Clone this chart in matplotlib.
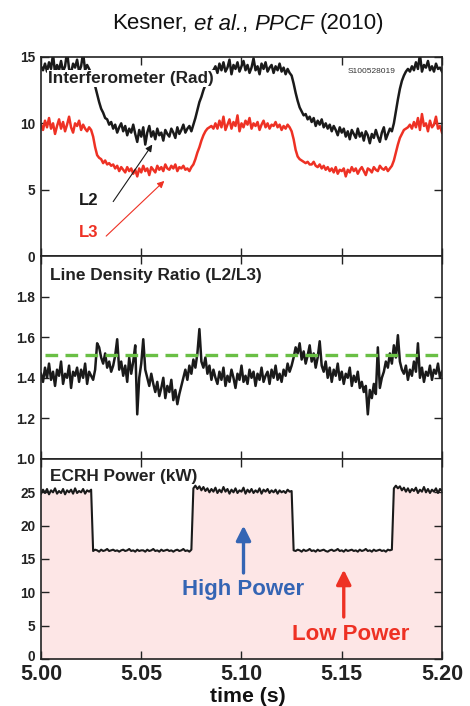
import numpy as np
import matplotlib
matplotlib.use("Agg")
import matplotlib.pyplot as plt
from matplotlib.transforms import ScaledTranslation

plt.rcParams['font.family'] = ['Liberation Sans', 'DejaVu Sans']

# ---------------- data ----------------
time = np.round(np.linspace(5.000, 5.200, 201), 3)

l2 = [14.3, 14.0, 14.5, 13.9, 14.6, 14.1, 15.2, 13.8, 14.4, 14.0, 14.7, 13.9, 14.3, 15.4, 14.1, 13.8,
      14.5, 14.2, 14.8, 13.9, 14.3, 15.3, 14.0, 14.4, 14.1, 13.8,
      13.4, 12.8, 12.2, 11.6, 11.1, 10.8, 10.4, 10.3, 9.9, 10.1,
      9.6, 9.9, 9.3, 9.7, 10.0, 9.4, 9.8, 9.1, 9.6, 9.3,
      9.9, 9.2, 8.6, 9.5, 9.0, 9.7, 8.4, 9.3, 9.8, 9.0,
      9.4, 8.8, 9.6, 9.1, 9.3, 8.7, 9.5, 9.2, 9.0, 9.6,
      9.3, 8.9, 9.7, 9.2, 9.5, 9.9, 9.3, 9.6, 9.8, 9.4,
      9.9, 10.4, 11.0, 11.6, 12.0, 12.5, 12.9, 13.3, 13.7, 13.9, 14.0,
      14.3, 13.8, 14.5, 14.0, 14.6, 13.9, 14.2, 14.8, 13.7, 14.4,
      14.1, 14.6, 13.9, 14.3, 14.7, 14.0, 14.4, 13.8, 14.2, 14.9,
      14.0, 14.3, 13.7, 14.5, 14.1, 14.6, 13.9, 14.2, 14.4, 13.8,
      14.3, 14.0, 14.5, 13.9, 14.2, 13.7, 14.1, 13.8, 13.6,
      13.0, 12.3, 11.7, 11.2, 10.9, 10.6, 10.7, 10.3, 10.5,
      10.1, 10.4, 9.8, 10.2, 9.9, 10.3, 9.7, 10.0, 9.6, 9.9,
      9.4, 9.8, 9.5, 9.1, 9.7, 9.3, 9.6, 9.0, 9.4, 8.8,
      9.5, 9.2, 8.9, 9.6, 9.0, 9.3, 8.7, 9.4, 9.1, 8.5,
      9.2, 8.9, 9.5, 9.0, 8.6, 9.3, 9.7, 8.8, 9.2, 9.6,
      9.4,
      10.0, 10.9, 11.8, 12.6, 13.2, 13.6, 13.9, 14.1, 13.9,
      14.3, 14.0, 14.6, 14.1, 15.2, 13.9, 14.4, 14.2, 14.7, 14.0, 14.3, 13.9, 14.5, 14.1, 14.2, 13.9]

l3 = [9.9, 9.5, 10.2, 9.7, 10.4, 9.6, 10.0, 9.2, 9.8, 10.3, 9.6, 10.1, 9.4, 9.9, 10.5, 9.7,
      9.3, 10.0, 9.8, 10.2, 9.5, 9.9, 9.6, 9.4, 9.7, 9.5,
      9.0, 8.2, 7.6, 7.4, 7.3, 7.0, 7.2, 6.9, 7.0, 6.8,
      6.9, 6.6, 6.8, 6.4, 6.7, 6.5, 6.3, 6.7, 6.4, 6.6,
      6.2, 6.5, 6.0, 6.6, 6.3, 6.8, 6.4, 6.6, 6.1, 6.7,
      6.5, 6.3, 6.8, 6.5, 6.7, 6.4, 6.9, 6.6, 6.5, 6.8,
      6.6, 6.9, 6.4, 6.7, 6.6, 6.8, 6.5, 6.6, 6.4, 6.7,
      6.9, 7.3, 7.8, 8.2, 8.7, 9.1, 9.4, 9.6, 9.7, 9.8, 9.6,
      10.0, 9.6, 10.2, 9.7, 10.5, 9.5, 9.9, 10.3, 9.6, 10.1,
      9.8, 10.6, 9.4, 10.0, 9.7, 10.2, 9.9, 10.4, 9.6, 10.0,
      9.8, 10.1, 9.5, 9.9, 10.2, 9.7, 10.0, 9.6, 9.9, 9.8,
      10.1, 9.7, 9.9, 9.5, 9.8, 9.6, 9.9, 9.7, 9.4,
      8.8, 8.0, 7.5, 7.3, 7.2, 7.1, 7.0, 7.1, 6.9,
      6.9, 7.1, 6.8, 6.7, 6.9, 6.6, 6.8, 6.5, 6.7, 6.4,
      6.6, 6.3, 6.7, 6.2, 6.5, 6.4, 6.6, 6.0, 6.5, 6.3,
      6.7, 6.4, 6.6, 6.2, 6.5, 6.7, 6.4, 6.1, 6.6, 6.5,
      6.3, 6.7, 6.5, 6.4, 6.8, 6.6, 6.5, 6.7, 6.4, 6.6,
      6.8,
      7.2, 7.8, 8.4, 8.9, 9.2, 9.5, 9.6, 9.7, 9.9,
      9.6, 10.1, 9.7, 10.4, 9.5, 10.7, 9.8, 10.0, 9.4, 10.2, 9.7, 9.9, 10.5, 9.6, 9.8, 9.3]

ratio = [1.42, 1.38, 1.45, 1.40, 1.47, 1.39, 1.43, 1.36, 1.44, 1.41, 1.48, 1.37, 1.42, 1.40,
         1.46, 1.35, 1.43, 1.41, 1.45, 1.38, 1.44, 1.40, 1.47, 1.37, 1.43, 1.41, 1.39, 1.44,
         1.57, 1.55, 1.50, 1.47, 1.52, 1.45, 1.48, 1.43,
         1.46, 1.51, 1.59, 1.44, 1.48, 1.41, 1.46, 1.38, 1.50, 1.42, 1.48, 1.56,
         1.22, 1.40, 1.47, 1.59, 1.44, 1.40, 1.36, 1.42,
         1.37, 1.33, 1.38, 1.31, 1.35, 1.40, 1.30, 1.36, 1.33, 1.39, 1.29, 1.34, 1.27, 1.32, 1.36,
         1.40, 1.44, 1.39, 1.46, 1.42, 1.49, 1.45, 1.52, 1.64,
         1.48, 1.45, 1.50, 1.42, 1.46, 1.39, 1.44, 1.40, 1.37, 1.43,
         1.39, 1.45, 1.36, 1.41, 1.38, 1.44, 1.40, 1.35, 1.42, 1.39,
         1.46, 1.38, 1.41, 1.37, 1.44, 1.40, 1.43, 1.36, 1.42, 1.39,
         1.45, 1.38, 1.41, 1.43, 1.37, 1.44, 1.40, 1.46, 1.39, 1.42,
         1.38, 1.44, 1.41, 1.47, 1.43,
         1.46, 1.50, 1.55, 1.52, 1.57, 1.49, 1.53, 1.47, 1.51, 1.56, 1.48, 1.52, 1.45, 1.50, 1.58, 1.46,
         1.43, 1.48, 1.40, 1.45, 1.38, 1.44, 1.41, 1.47, 1.39, 1.43, 1.37, 1.42, 1.40, 1.45, 1.36,
         1.41, 1.38, 1.43, 1.35,
         1.38, 1.33, 1.36, 1.22, 1.34, 1.30, 1.37, 1.32, 1.55, 1.35, 1.40,
         1.43, 1.48, 1.45, 1.52, 1.47, 1.56, 1.50, 1.61, 1.48, 1.44,
         1.42, 1.46, 1.39, 1.44, 1.41, 1.48, 1.43, 1.57, 1.40, 1.45, 1.38, 1.43, 1.41, 1.46, 1.39,
         1.44, 1.42, 1.47, 1.40, 1.43]

power = [24.8, 25.4, 24.9, 25.5, 24.7, 25.3, 25.0, 25.6, 24.8, 25.2, 24.9, 25.5, 24.7, 25.3,
         25.0, 25.4, 24.8, 25.6, 24.9, 25.2, 25.0, 25.5, 24.8, 25.3, 25.1, 25.4,
         16.2, 16.4, 16.3, 16.1, 16.4, 16.2, 16.3, 16.5, 16.2, 16.3,
         16.4, 16.2, 16.3, 16.1, 16.3, 16.4, 16.2, 16.3, 16.5, 16.2,
         16.3, 16.1, 16.4, 16.2, 16.3, 16.3, 16.1, 16.4, 16.2, 16.3,
         16.5, 16.2, 16.3, 16.1, 16.4, 16.2, 16.3, 16.4, 16.2, 16.3,
         16.1, 16.3, 16.4, 16.2, 16.3, 16.5, 16.2, 16.3, 16.1, 16.4,
         25.6, 26.0, 25.5, 25.9, 25.3, 25.8, 25.2, 25.6, 25.0, 25.5,
         25.1, 25.7, 24.9, 25.4, 25.0, 25.8, 25.1, 25.5, 24.8, 25.4,
         25.0, 25.6, 24.9, 25.3, 25.1, 25.7, 24.8, 25.4, 25.0, 25.5,
         24.9, 25.3, 25.0, 25.6, 24.8, 25.4, 25.1, 25.5, 24.9, 25.3,
         25.0, 25.4, 24.8, 25.3, 25.0, 25.2, 24.9, 25.4, 25.1, 25.2,
         16.3, 16.2, 16.4, 16.3, 16.1, 16.4, 16.2, 16.3, 16.5, 16.2,
         16.3, 16.1, 16.4, 16.2, 16.3, 16.4, 16.2, 16.1, 16.3, 16.4,
         16.2, 16.3, 16.5, 16.2, 16.3, 16.1, 16.4, 16.2, 16.3, 16.4,
         16.2, 16.3, 16.1, 16.4, 16.2, 16.3, 16.5, 16.2, 16.3, 16.1,
         16.4, 16.2, 16.3, 16.4, 16.2, 16.3, 16.1, 16.4, 16.3, 16.4,
         25.6, 26.0, 25.6, 25.9, 25.3, 25.7, 25.1, 25.6, 25.0, 25.5,
         25.2, 25.7, 24.9, 25.4, 25.1, 25.8, 25.0, 25.5, 24.9, 25.4,
         25.1, 25.6, 24.9, 25.5, 25.2]

ratio_ref = 1.51
x_ticks = [5.00, 5.05, 5.10, 5.15, 5.20]
x_ticklabels = ['5.00', '5.05', '5.10', '5.15', '5.20']
top_yticks = [0, 5, 10, 15]
mid_yticks = [1.0, 1.2, 1.4, 1.6, 1.8]
mid_yticklabels = ['1.0', '1.2', '1.4', '1.6', '1.8']
bot_yticks = [0, 5, 10, 15, 20, 25]
title_parts = [('Kesner,', 'normal'), ('et al.', 'italic'), (',', 'normal'),
               ('PPCF', 'italic'), ('(2010)', 'normal')]
title_gaps = [True, False, True, True, False]   # space after each part

RED = '#ee3124'
BLUE = '#3565b4'
GREEN = '#6abf45'
PINK = '#fde6e6'
INK = '#1a1a1a'

# ---------------- figure ----------------
fig = plt.figure(figsize=(4.70, 7.06), dpi=100)
L, W = 41 / 470, 401 / 470
ax1 = fig.add_axes([L, 1 - 256 / 706, W, 199 / 706])
ax2 = fig.add_axes([L, 1 - 459 / 706, W, 203 / 706])
ax3 = fig.add_axes([L, 1 - 659 / 706, W, 200 / 706])

for ax in (ax1, ax2, ax3):
    ax.set_xlim(5.0, 5.2)
    ax.set_xticks(x_ticks)
    ax.tick_params(direction='in', top=True, right=True, length=6, width=1.0,
                   labelsize=9.8, pad=4, colors='#222222')
    for sp in ax.spines.values():
        sp.set_linewidth(1.2)
        sp.set_color('#222222')

# top panel
ax1.plot(time, l2, color=INK, lw=1.8)
ax1.plot(time, l3, color=RED, lw=1.8)
ax1.set_ylim(0, 15)
ax1.set_yticks(top_yticks)
ax1.set_yticklabels([str(v) for v in top_yticks], fontweight='bold')
ax1.set_xticklabels([])
ax1.text(5.0035, 13.35, 'Interferometer (Rad)', fontsize=12.4, fontweight='bold', color='#222222',
         va='center', ha='left', zorder=5,
         bbox=dict(facecolor='white', edgecolor='none', pad=0.8))
ax1.text(5.165, 13.9, 'S100528019', fontsize=6, color='#333333', ha='center', va='center')
ax1.text(5.024, 4.15, 'L2', fontsize=12, fontweight='bold', color=INK, ha='center', va='center')
ax1.text(5.024, 1.8, 'L3', fontsize=12, fontweight='bold', color=RED, ha='center', va='center')
ax1.annotate('', xy=(5.0555, 8.4), xytext=(5.036, 4.1),
             arrowprops=dict(arrowstyle='-|>', color=INK, lw=0.8, mutation_scale=10,
                             shrinkA=0, shrinkB=0))
ax1.annotate('', xy=(5.0615, 5.66), xytext=(5.0325, 1.5),
             arrowprops=dict(arrowstyle='-|>', color=RED, lw=0.8, mutation_scale=10,
                             shrinkA=0, shrinkB=0))

# middle panel
ax2.plot(time, ratio, color=INK, lw=1.8)
ax2.plot([5.002, 5.2], [ratio_ref, ratio_ref], color=GREEN, lw=2.4,
         linestyle=(0, (3.8, 2.2)))
ax2.set_ylim(1.0, 2.0)
ax2.set_yticks(mid_yticks)
ax2.set_yticklabels(mid_yticklabels, fontweight='bold')
ax2.set_xticklabels([])
ax2.text(5.0045, 1.905, 'Line Density Ratio (L2/L3)', fontsize=12.4, fontweight='bold',
         color='#222222', va='center', ha='left')

# bottom panel
ax3.fill_between(time, 0, power, color=PINK, lw=0)
ax3.plot(time, power, color=INK, lw=1.5)
ax3.set_ylim(0, 30)
ax3.set_yticks(bot_yticks)
ylabs3 = ax3.set_yticklabels([str(v) for v in bot_yticks], fontweight='bold')
ylabs3[0].set_transform(ylabs3[0].get_transform() +
                        ScaledTranslation(0, 3.5 / 100, fig.dpi_scale_trans))
ax3.set_xticklabels(x_ticklabels, fontsize=15.5, fontweight='bold')
ax3.tick_params(axis='x', pad=3.5)
ax3.text(5.0045, 27.4, 'ECRH Power (kW)', fontsize=12.4, fontweight='bold',
         color='#222222', va='center', ha='left')
ax3.annotate('', xy=(5.101, 20.0), xytext=(5.101, 12.9),
             arrowprops=dict(arrowstyle='-|>', color=BLUE, lw=2.4, mutation_scale=22,
                             shrinkA=0, shrinkB=0))
ax3.text(5.101, 10.35, 'High Power', fontsize=16, fontweight='bold', color=BLUE,
         ha='center', va='center')
ax3.annotate('', xy=(5.151, 13.4), xytext=(5.151, 6.3),
             arrowprops=dict(arrowstyle='-|>', color=RED, lw=2.4, mutation_scale=22,
                             shrinkA=0, shrinkB=0))
ax3.text(5.1545, 3.6, 'Low Power', fontsize=16, fontweight='bold', color=RED,
         ha='center', va='center')
fig.text(248 / 470, 4.5 / 706, 'time (s)', fontsize=15.3, fontweight='bold', color='#111111',
         ha='center', va='baseline')

# title built from pieces (regular / italic)
renderer = fig.canvas.get_renderer()
fsz = 16
probe1 = fig.text(0, 0, 'x x', fontsize=fsz)
probe2 = fig.text(0, 0, 'xx', fontsize=fsz)
space_w = probe1.get_window_extent(renderer).width - probe2.get_window_extent(renderer).width
probe1.remove()
probe2.remove()
objs, widths = [], []
for txt, style in title_parts:
    t = fig.text(0, 1 - 24 / 706, txt, fontsize=fsz, style=style, color='#111111',
                 ha='left', va='center')
    objs.append(t)
    widths.append(t.get_window_extent(renderer).width)
total = sum(widths) + space_w * sum(title_gaps[:-1])
x_px = 248 - total / 2
for t, w, g in zip(objs, widths, title_gaps):
    t.set_x(x_px / 470)
    x_px += w + (space_w if g else 0)

fig.savefig('out.png', dpi=100)
